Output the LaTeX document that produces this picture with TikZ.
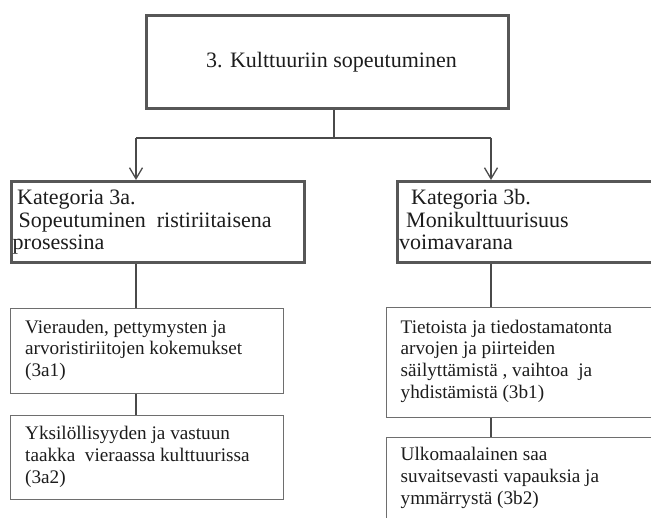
\documentclass[tikz,border=0pt]{standalone}
\usepackage{fontspec}
\setmainfont{Liberation Serif}
\usetikzlibrary{arrows.meta}
\definecolor{framegray}{HTML}{575757}
\definecolor{thingray}{HTML}{6E6E6E}
\definecolor{linegray}{HTML}{4A4A4A}
\definecolor{inkgray}{HTML}{1C1C1C}
\begin{document}
\begin{tikzpicture}[x=1pt,y=-1pt,
  mainbox/.style={draw=framegray, line width=3pt, rectangle, inner sep=0pt,
    anchor=north west},
  subbox/.style={draw=thingray, line width=1.2pt, rectangle, inner sep=0pt,
    anchor=north west},
  bigtext/.style={font=\fontsize{22}{22}\selectfont, text=inkgray,
    inner sep=0pt, anchor=base west},
  smalltext/.style={font=\fontsize{19.2}{19.2}\selectfont, text=inkgray,
    inner sep=0pt, anchor=base west},
  link/.style={draw=linegray, line width=1.3pt},
  arrowlink/.style={link, -{Straight Barb[length=11pt,width=13pt,line width=1.3pt]}}
]
\useasboundingbox (0,0) rectangle (651,518);
\clip (0,0) rectangle (651,518);

% title box
\node[mainbox, minimum width=362pt, minimum height=93pt] (top) at (145,14) {};
\node[bigtext, anchor=base] (toptitle) at (331.5,68) {3. Kulttuuriin sopeutuminen};

% category boxes
\node[mainbox, minimum width=293pt, minimum height=81pt] (cat3a) at (10,180) {};
\node[mainbox, minimum width=300pt, minimum height=81pt] (cat3b) at (396,180) {};

\node[bigtext] (cat3aA) at (17,205) {Kategoria 3a.};
\node[bigtext] (cat3aB) at (18.5,227.5) {Sopeutuminen\ \ ristiriitaisena};
\node[bigtext] (cat3aC) at (12.5,250) {prosessina};

\node[bigtext] (cat3bA) at (411,205) {Kategoria 3b.};
\node[bigtext] (cat3bB) at (406,227.5) {Monikulttuurisuus};
\node[bigtext] (cat3bC) at (399,250) {voimavarana};

% sub-category boxes, left column
\node[subbox, minimum width=273pt, minimum height=85pt] (s3a1) at (10,308) {};
\node[subbox, minimum width=273pt, minimum height=84pt] (s3a2) at (10,415) {};

\node[smalltext] (s3a1A) at (25,333.3) {Vierauden, pettymysten ja};
\node[smalltext] (s3a1B) at (25,355) {arvoristiriitojen kokemukset};
\node[smalltext] (s3a1C) at (25,376.7) {(3a1)};

\node[smalltext] (s3a2A) at (25,440) {Yksilöllisyyden ja vastuun};
\node[smalltext] (s3a2B) at (25,461.7) {taakka\ \ vieraassa kulttuurissa};
\node[smalltext] (s3a2C) at (25,483.3) {(3a2)};

% sub-category boxes, right column
\node[subbox, minimum width=300pt, minimum height=110pt] (s3b1) at (386,307) {};
\node[subbox, minimum width=300pt, minimum height=120pt] (s3b2) at (386,437) {};

\node[smalltext] (s3b1A) at (400.5,333.3) {Tietoista ja tiedostamatonta};
\node[smalltext] (s3b1B) at (400.5,355) {arvojen ja piirteiden};
\node[smalltext] (s3b1C) at (400.5,376.7) {säilyttämistä , vaihtoa\ \ ja};
\node[smalltext] (s3b1D) at (400.5,398.4) {yhdistämistä (3b1)};

\node[smalltext] (s3b2A) at (400.5,461) {Ulkomaalainen saa};
\node[smalltext] (s3b2B) at (400.5,482.7) {suvaitsevasti vapauksia ja};
\node[smalltext] (s3b2C) at (400.5,504.3) {ymmärrystä (3b2)};

% branching connectors
\coordinate (fork) at (334,138);
\coordinate (forkL) at (136,138);
\coordinate (forkR) at (491,138);
\draw[link] (top.south -| fork) -- (fork);
\draw[link] (forkL) -- (forkR);
\draw[arrowlink] (forkL) -- (cat3a.north -| forkL);
\draw[arrowlink] (forkR) -- (cat3b.north -| forkR);

\draw[link] (cat3a.south -| forkL) -- (s3a1.north -| forkL);
\draw[link] (s3a1.south -| forkL) -- (s3a2.north -| forkL);
\draw[link] (cat3b.south -| forkR) -- (s3b1.north -| forkR);
\draw[link] (s3b1.south -| forkR) -- (s3b2.north -| forkR);
\end{tikzpicture}
\end{document}
